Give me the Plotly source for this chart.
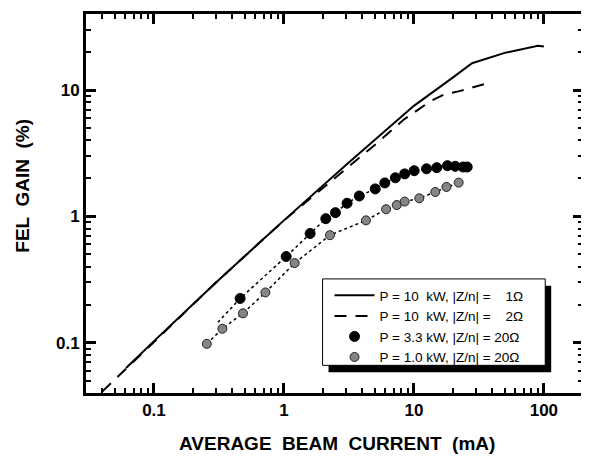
import plotly.graph_objects as go

# solid curve: P = 10 kW, |Z/n| = 1 ohm
cur_1ohm = [0.061, 0.1, 0.3, 1.0, 3.0, 10.0, 20.0, 28.0, 50.0, 90.0, 100.0]
gain_1ohm = [0.063, 0.103, 0.30, 0.93, 2.55, 7.5, 12.6, 16.3, 19.7, 22.4, 22.1]

# dashed curve: P = 10 kW, |Z/n| = 2 ohm
cur_2ohm = [0.04, 0.1, 0.3, 1.0, 3.1, 5.1, 8.4, 13.4, 17.0, 22.0, 40.0]
gain_2ohm = [0.041, 0.102, 0.30, 0.93, 2.46, 3.74, 5.86, 8.16, 9.2, 9.76, 11.6]

# black dots: P = 3.3 kW, |Z/n| = 20 ohm
cur_33 = [0.46, 1.04, 1.59, 2.10, 2.49, 3.06, 3.80, 5.04, 5.97, 7.2, 8.49,
          10.05, 12.5, 15.0, 18.1, 20.8, 23.9, 25.7]
gain_33 = [0.224, 0.481, 0.732, 0.959, 1.07, 1.27, 1.45, 1.65, 1.84, 2.02,
           2.17, 2.30, 2.38, 2.43, 2.52, 2.49, 2.46, 2.46]
fit_cur_33 = [0.31] + cur_33
fit_gain_33 = [0.145] + gain_33

# grey dots: P = 1.0 kW, |Z/n| = 20 ohm
cur_10 = [0.255, 0.336, 0.484, 0.72, 1.21, 2.26, 4.28, 6.11, 7.38, 8.49,
          11.0, 14.6, 17.8, 22.1]
gain_10 = [0.098, 0.129, 0.171, 0.25, 0.427, 0.71, 0.93, 1.14, 1.23, 1.31,
           1.39, 1.56, 1.71, 1.85]

x_ticks = [0.1, 1, 10, 100]
x_labels = ["0.1", "1", "10", "100"]
y_ticks = [0.1, 1, 10]
y_labels = ["0.1", "1", "10"]

X_RANGE = [-1.523, 2.301]
Y_RANGE = [-1.398, 1.602]

FONT = "Liberation Sans, Arial, sans-serif"
sp = "\u00a0"

fig = go.Figure()

# dotted guide lines behind the dots
fig.add_trace(go.Scatter(x=fit_cur_33, y=fit_gain_33, mode="lines",
                         line=dict(color="black", width=1.5, dash="dot"),
                         showlegend=False, hoverinfo="skip"))
fig.add_trace(go.Scatter(x=cur_10, y=gain_10, mode="lines",
                         line=dict(color="black", width=1.5, dash="dot"),
                         showlegend=False, hoverinfo="skip"))

fig.add_trace(go.Scatter(x=cur_1ohm, y=gain_1ohm, mode="lines",
                         line=dict(color="black", width=2),
                         name=f"P = 10{sp} kW, |Z/n| = {sp}{sp} 1\u03a9"))
fig.add_trace(go.Scatter(x=cur_2ohm, y=gain_2ohm, mode="lines",
                         line=dict(color="black", width=2, dash="12px,9px"),
                         name=f"P = 10{sp} kW, |Z/n| = {sp}{sp} 2\u03a9"))
fig.add_trace(go.Scatter(x=cur_33, y=gain_33, mode="markers",
                         marker=dict(color="black", size=10,
                                     line=dict(color="black", width=1)),
                         name="P = 3.3 kW, |Z/n| = 20\u03a9"))
fig.add_trace(go.Scatter(x=cur_10, y=gain_10, mode="markers",
                         marker=dict(color="#858585", size=9,
                                     line=dict(color="#222222", width=1)),
                         name="P = 1.0 kW, |Z/n| = 20\u03a9"))

frame = dict(type="log", showgrid=False, zeroline=False,
             showline=True, linecolor="black", linewidth=3, mirror="ticks",
             ticks="inside", ticklen=10, tickwidth=3, tickcolor="black",
             minor=dict(dtick="D1", ticks="inside", ticklen=5, tickwidth=2,
                        tickcolor="black", showgrid=False),
             tickfont=dict(family=FONT, size=17, color="black", weight="bold"))

fig.update_layout(
    xaxis=dict(range=X_RANGE, tickmode="array", tickvals=x_ticks,
               ticktext=x_labels, **frame),
    yaxis=dict(range=Y_RANGE, tickmode="array", tickvals=y_ticks,
               ticktext=y_labels, **frame),
)

# legend frame and drop shadow
fig.add_shape(type="rect", xref="paper", yref="paper",
              x0=0.488, x1=0.936, y0=0.055, y1=0.283,
              fillcolor="black", line=dict(width=0), layer="above")
fig.add_shape(type="rect", xref="paper", yref="paper",
              x0=0.476, x1=0.924, y0=0.073, y1=0.301,
              fillcolor="white", line=dict(color="black", width=1), layer="above")

fig.add_annotation(text="AVERAGE  BEAM  CURRENT  (mA)", xref="paper", yref="paper",
                   x=0.505, y=-0.133, showarrow=False, yanchor="middle",
                   font=dict(family=FONT, size=19, color="black", weight="bold"))
fig.add_annotation(text="FEL  GAIN  (%)", xref="paper", yref="paper",
                   x=-0.128, y=0.548, showarrow=False, textangle=-90,
                   xanchor="center", yanchor="middle",
                   font=dict(family=FONT, size=19, color="black", weight="bold"))

# the page body keeps its default 8px margin, so the figure is 8px smaller
fig.update_layout(
    width=581, height=448,
    margin=dict(l=78, r=3, t=3, b=63),
    paper_bgcolor="white", plot_bgcolor="white",
    font=dict(family=FONT, color="black"),
    showlegend=True,
    legend=dict(x=0.49, y=0.298, xanchor="left", yanchor="top",
                bgcolor="rgba(0,0,0,0)", borderwidth=0,
                font=dict(family=FONT, size=13.5, color="black"),
                itemwidth=40, tracegroupgap=0),
)

fig.write_html("out.html", config={"displayModeBar": False})
